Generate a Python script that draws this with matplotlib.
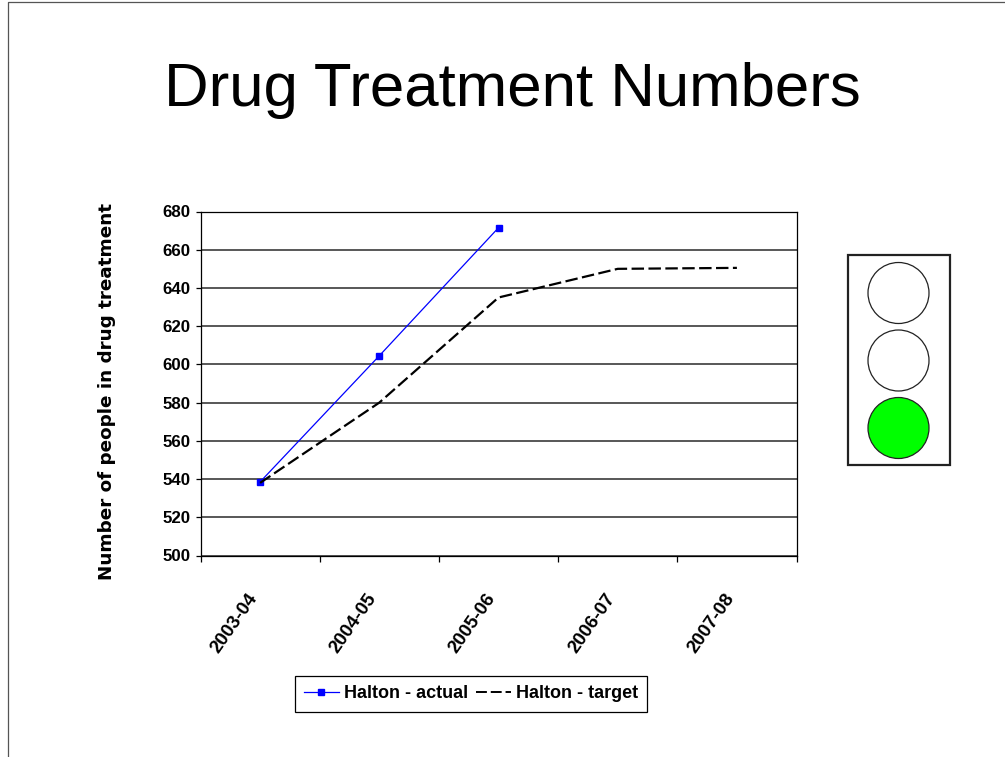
import matplotlib
matplotlib.use('Agg')
import matplotlib.pyplot as plt
from matplotlib.lines import Line2D
from matplotlib.patches import Circle, Rectangle
from matplotlib.transforms import ScaledTranslation

years = ['2003-04', '2004-05', '2005-06', '2006-07', '2007-08']
actual = [538.5, 604.5, 671.5]
target = [538, 580, 635, 650, 650.5]
y_ticks = list(range(500, 700, 20))
lamp_colors = ['white', 'white', '#00ff00']

W, H = 1005, 757
sans = ['Liberation Sans', 'DejaVu Sans']

fig = plt.figure(figsize=(W / 100, H / 100), dpi=100)

# overlay in pixel coordinates for slide border and traffic light
bg = fig.add_axes([0, 0, 1, 1])
bg.set_xlim(0, W)
bg.set_ylim(H, 0)
bg.axis('off')
bg.plot([1005, 7.5, 7.5], [1.5, 1.5, 757], color='#555555', lw=0.9)
bg.add_patch(Rectangle((847.5, 255), 102, 210, fc='white', ec='#222222', lw=1.6))
for cy, col in zip([293, 360.5, 428], lamp_colors):
    bg.add_patch(Circle((898.5, cy), 30.5, fc=col, ec='#222222', lw=0.9))

fig.text(512.5 / W, 1 - 90.5 / H, 'Drug Treatment Numbers', ha='center', va='center',
         fontsize=44.5, family=sans, color='black')

ax = fig.add_axes([200.5 / W, 1 - 555.5 / H, 596 / W, 344 / H])
ax.set_xlim(0, 5)
ax.set_ylim(500, 680)
x = [i + 0.5 for i in range(len(years))]

ax.plot(x[:len(actual)], actual, color='#0000ff', lw=0.9, marker='s', ms=5,
        label='Halton - actual')
ax.plot(x, target, color='black', lw=1.6, dashes=(5.6, 2), label='Halton - target')

ax.set_yticks(y_ticks)
ax.set_xticks(range(6))
ax.set_xticklabels([])
ax.set_xticks(x, minor=True)
ax.set_xticklabels(years, minor=True, rotation=55, ha='right', rotation_mode='anchor',
                   fontsize=13.5, fontweight='bold', family=sans)
ax.tick_params(axis='x', which='minor', length=0, pad=22)
ax.tick_params(axis='x', which='major', length=4.5, width=0.9, direction='out')
ax.tick_params(axis='y', length=3.5, width=0.9, pad=3.5)
shift = ScaledTranslation(-0.13, -0.04, fig.dpi_scale_trans)
for lab in ax.get_xticklabels(minor=True):
    lab.set_transform(lab.get_transform() + shift)
for lab in ax.get_yticklabels():
    lab.set_fontsize(12.2)
    lab.set_fontweight('bold')
    lab.set_family(sans)
ax.grid(axis='y', color='#2a2a2a', lw=1.1)
ax.set_axisbelow(True)
for name in ['left', 'bottom', 'top', 'right']:
    ax.spines[name].set_linewidth(0.9)
    ax.spines[name].set_color('black')

fig.text(107.5 / W, 1 - 391.5 / H, 'Number of people in drug treatment', rotation=90,
         ha='center', va='center', fontsize=13.2, fontweight='bold', family='DejaVu Sans')

handles = [Line2D([], [], color='#0000ff', lw=0.9, marker='s', ms=5),
           Line2D([], [], color='black', lw=1.4, dashes=(5.6, 2))]
leg = fig.legend(handles, ['Halton - actual', 'Halton - target'], ncol=2,
                 loc='center', bbox_to_anchor=(471 / W, 1 - 694 / H),
                 frameon=True, fancybox=False, edgecolor='black', framealpha=1,
                 prop={'family': sans, 'weight': 'bold', 'size': 13},
                 handlelength=1.95, columnspacing=0.4, handletextpad=0.3,
                 borderpad=0.5, borderaxespad=0)
leg.get_frame().set_linewidth(0.9)

fig.savefig('out.png', dpi=100)
